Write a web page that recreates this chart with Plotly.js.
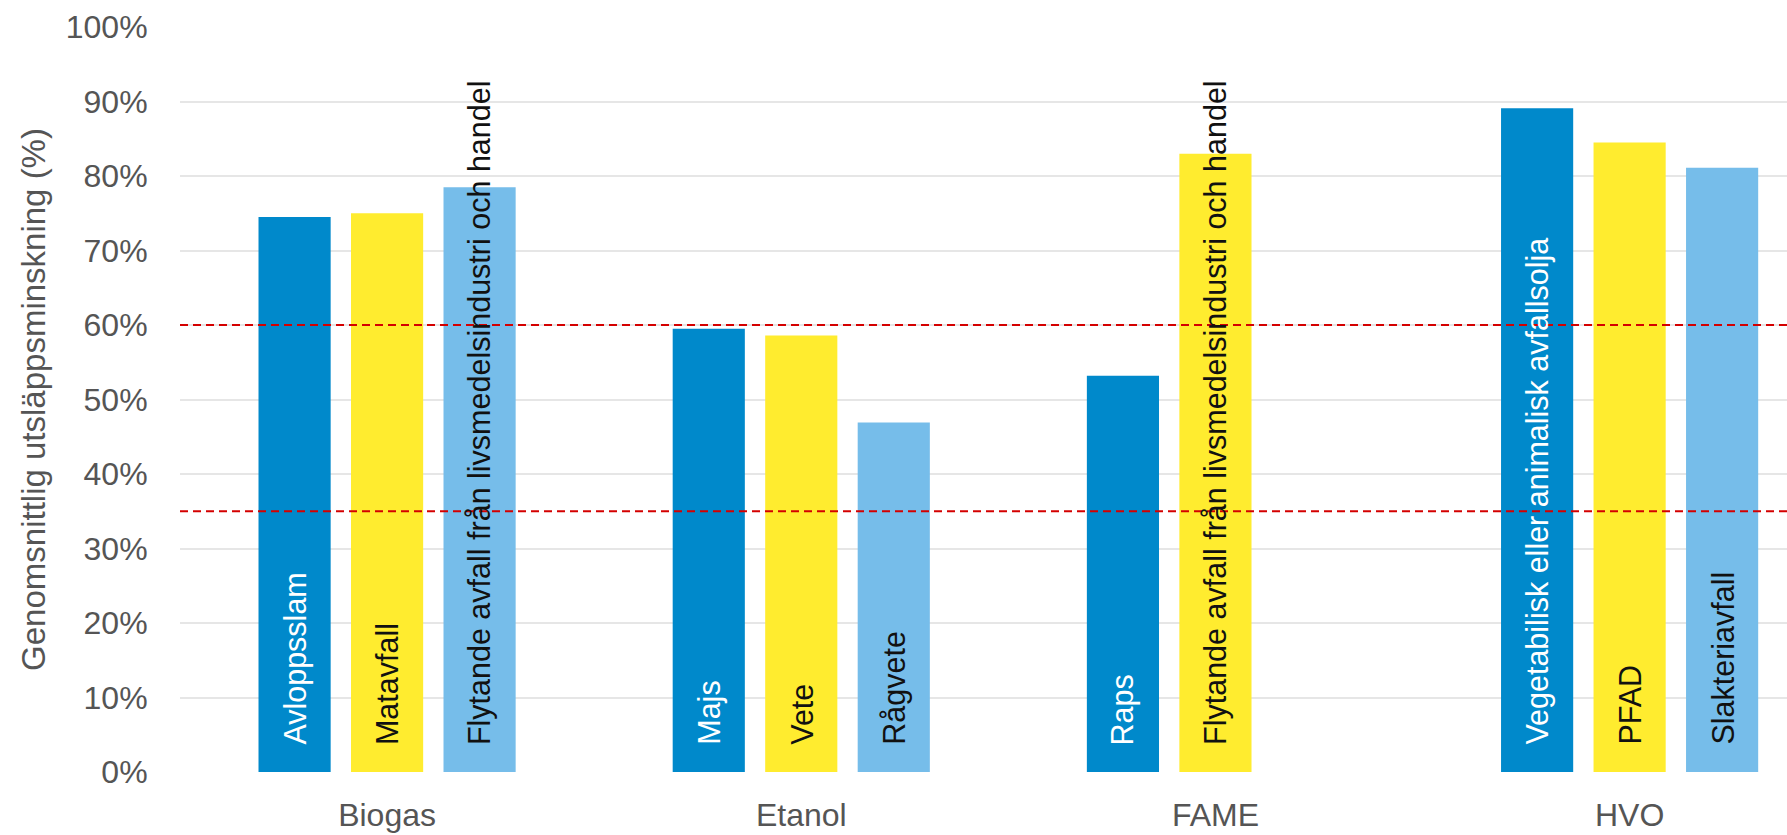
<!DOCTYPE html>
<html>
<head>
<meta charset="utf-8">
<script src="https://cdn.plot.ly/plotly-3.0.1.min.js"></script>
<style>
  html, body { margin: 0; padding: 0; background: #ffffff; }
  #chart { width: 1787px; height: 835px; }
</style>
</head>
<body>
<div id="chart"></div>
<script>
// ---- Data ----
const categories = ["Biogas", "Etanol", "FAME", "HVO"];

const series1Labels = ["Avloppsslam", "Majs", "Raps", "Vegetabilisk eller animalisk avfallsolja"];
const series1Values = [74.5, 59.5, 53.2, 89.1];

const series2Labels = ["Matavfall", "Vete", "Flytande avfall från livsmedelsindustri och handel", "PFAD"];
const series2Values = [75.0, 58.6, 83.0, 84.5];

const series3Labels = ["Flytande avfall från livsmedelsindustri och handel", "Rågvete", null, "Slakteriavfall"];
const series3Values = [78.5, 46.9, null, 81.1];

const thresholdLevels = [60, 35];

const yTickValues = [0, 10, 20, 30, 40, 50, 60, 70, 80, 90, 100];
const yTickLabels = ["0%", "10%", "20%", "30%", "40%", "50%", "60%", "70%", "80%", "90%", "100%"];

// ---- Styling ----
const colors = ["#0089CB", "#FFEC2F", "#76BDEA"];
const labelColors = ["#ffffff", "#111111", "#111111"];
const FONT = "Liberation Sans, Arial, Helvetica, sans-serif";
const bargap = 0.33;
const nSeries = 3;
const slot = (1 - bargap) / nSeries;

const seriesValues = [series1Values, series2Values, series3Values];
const seriesLabels = [series1Labels, series2Labels, series3Labels];

const traces = seriesValues.map((vals, i) => ({
  type: "bar",
  x: categories,
  y: vals,
  marker: { color: colors[i] },
  hoverinfo: "skip",
  showlegend: false
}));

const annotations = [];
seriesLabels.forEach((labels, s) => {
  labels.forEach((lab, c) => {
    if (lab === null || seriesValues[s][c] === null) return;
    annotations.push({
      xref: "x", yref: "y",
      x: c + (s - 1) * slot,
      y: 0,
      yshift: 25,
      xanchor: "center", yanchor: "bottom",
      text: lab,
      textangle: -90,
      showarrow: false,
      font: { family: FONT, size: 30.5, color: labelColors[s] }
    });
  });
});

const shapes = thresholdLevels.map(v => ({
  type: "line",
  xref: "paper", yref: "y",
  x0: 0, x1: 1, y0: v, y1: v,
  line: { color: "#d40000", width: 2, dash: "8px,5px" },
  layer: "above"
}));

const layout = {
  width: 1787,
  height: 835,
  margin: { l: 180, r: 0, t: 27, b: 63 },
  paper_bgcolor: "#ffffff",
  plot_bgcolor: "#ffffff",
  barmode: "group",
  bargap: bargap,
  bargroupgap: 0.22,
  font: { family: FONT, color: "#555555" },
  xaxis: {
    type: "category",
    range: [-0.5, 3.38],
    showgrid: false,
    zeroline: false,
    showline: false,
    ticks: "outside",
    ticklen: 15,
    tickcolor: "rgba(0,0,0,0)",
    tickfont: { family: FONT, size: 32, color: "#555555" }
  },
  yaxis: {
    range: [0, 100],
    tickvals: yTickValues,
    ticktext: yTickLabels,
    showgrid: true,
    gridcolor: "#e6e6e6",
    gridwidth: 2,
    zeroline: false,
    showline: false,
    ticks: "outside",
    ticklen: 25,
    tickcolor: "rgba(0,0,0,0)",
    tickfont: { family: FONT, size: 32, color: "#555555" },
    title: {
      text: "Genomsnittlig utsläppsminskning (%)",
      font: { family: FONT, size: 33, color: "#555555" },
      standoff: 10
    }
  },
  annotations: annotations,
  shapes: shapes
};

Plotly.newPlot("chart", traces, layout, { displayModeBar: false, staticPlot: true });
</script>
</body>
</html>
